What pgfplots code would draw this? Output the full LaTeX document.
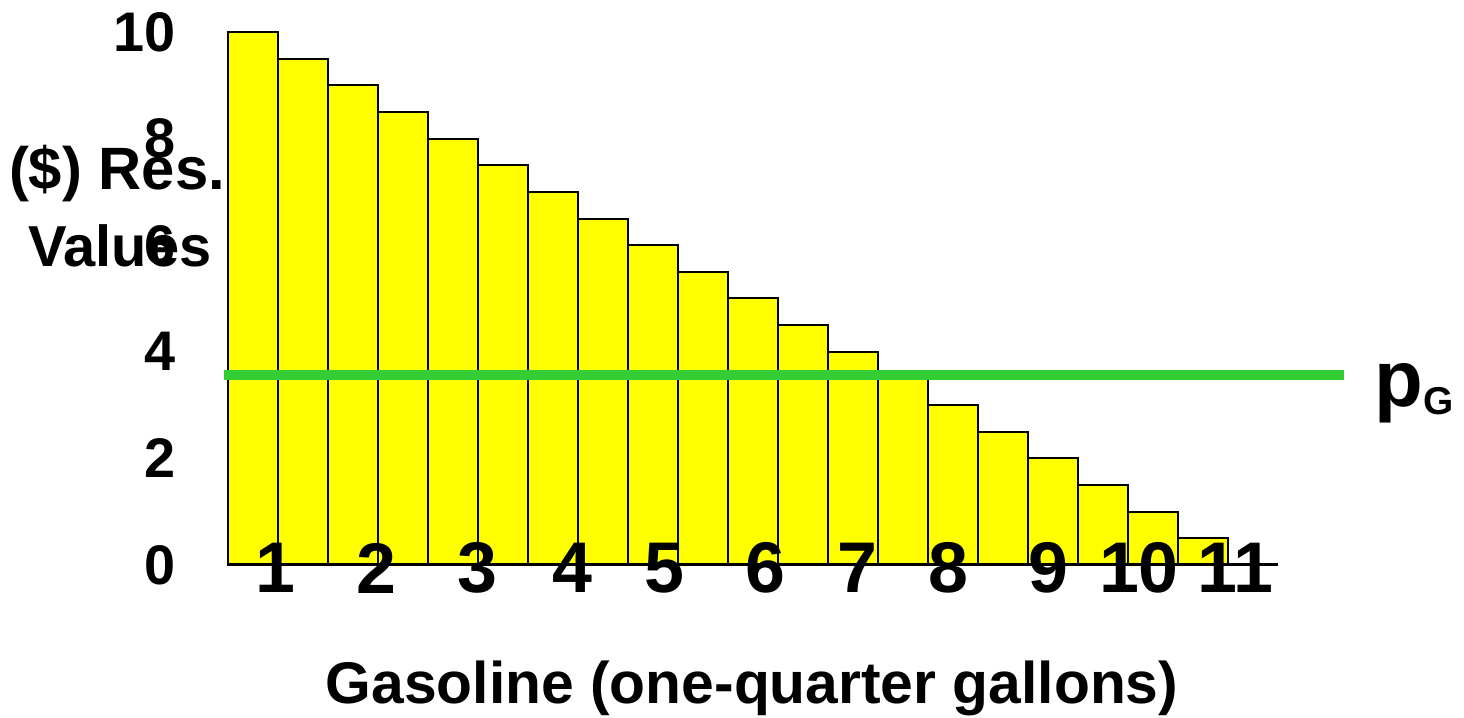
\documentclass[border=0pt]{standalone}
\usepackage{fontspec}
\setmainfont{Liberation Sans}
\usepackage{pgfplots}
\pgfplotsset{compat=1.18}
\definecolor{barfill}{RGB}{255,255,0}
\definecolor{pgreen}{RGB}{51,204,51}

\begin{document}
\begin{tikzpicture}
\path[use as bounding box] (0,0) rectangle (732bp,359bp);
\begin{axis}[
    at={(114bp,76.5bp)}, anchor=south west,
    scale only axis, width=525bp, height=266.5bp,
    xmin=0, xmax=21, ymin=0, ymax=10,
    clip=false, axis on top,
    axis x line*=bottom, axis y line*=left,
    y axis line style={draw=none},
    x axis line style={line width=1.5bp, -},
    ytick={0,2,4,6,8,10},
    xtick={0.94,2.96,4.98,6.89,8.72,10.74,12.58,14.4,16.4,18.22,20.14},
    xticklabels={1,2,3,4,5,6,7,8,9,10,11},
    major tick length=0pt,
    /pgf/number format/assume math mode=true,
    yticklabel style={font=\bfseries\fontsize{28}{28}\selectfont, anchor=east, inner sep=0pt, xshift=-26bp},
    xticklabel style={font=\bfseries\fontsize{36}{36}\selectfont, anchor=center, inner sep=0pt, yshift=-1.5bp},
]
% reservation values, one bar per quarter gallon
\addplot[ybar, bar width=1, bar shift=0pt, fill=barfill, draw=black, line width=1bp]
  coordinates {(0.5,10) (1.5,9.5) (2.5,9) (3.5,8.5) (4.5,8) (5.5,7.5) (6.5,7)
               (7.5,6.5) (8.5,6) (9.5,5.5) (10.5,5) (11.5,4.5) (12.5,4) (13.5,3.5)
               (14.5,3) (15.5,2.5) (16.5,2) (17.5,1.5) (18.5,1) (19.5,0.5)};
% price line
\addplot[pgreen, line width=5bp, no marks] coordinates {(-0.08,3.56) (22.32,3.56)};
\end{axis}
\node[anchor=base, font=\bfseries\fontsize{30}{30}\selectfont] at (58.5bp,264bp) {(\$) Res.};
\node[anchor=base, font=\bfseries\fontsize{29}{29}\selectfont] at (60bp,225.5bp) {Values};
\node[anchor=base, font=\bfseries\fontsize{29.5}{29.5}\selectfont] at (376bp,7.5bp) {Gasoline (one-quarter gallons)};
\node[anchor=base west, inner sep=0pt] at (687bp,155.5bp)
  {\bfseries\fontsize{40}{40}\selectfont p\raisebox{-4bp}{\fontsize{19.5}{19.5}\selectfont G}};
\end{tikzpicture}
\end{document}
